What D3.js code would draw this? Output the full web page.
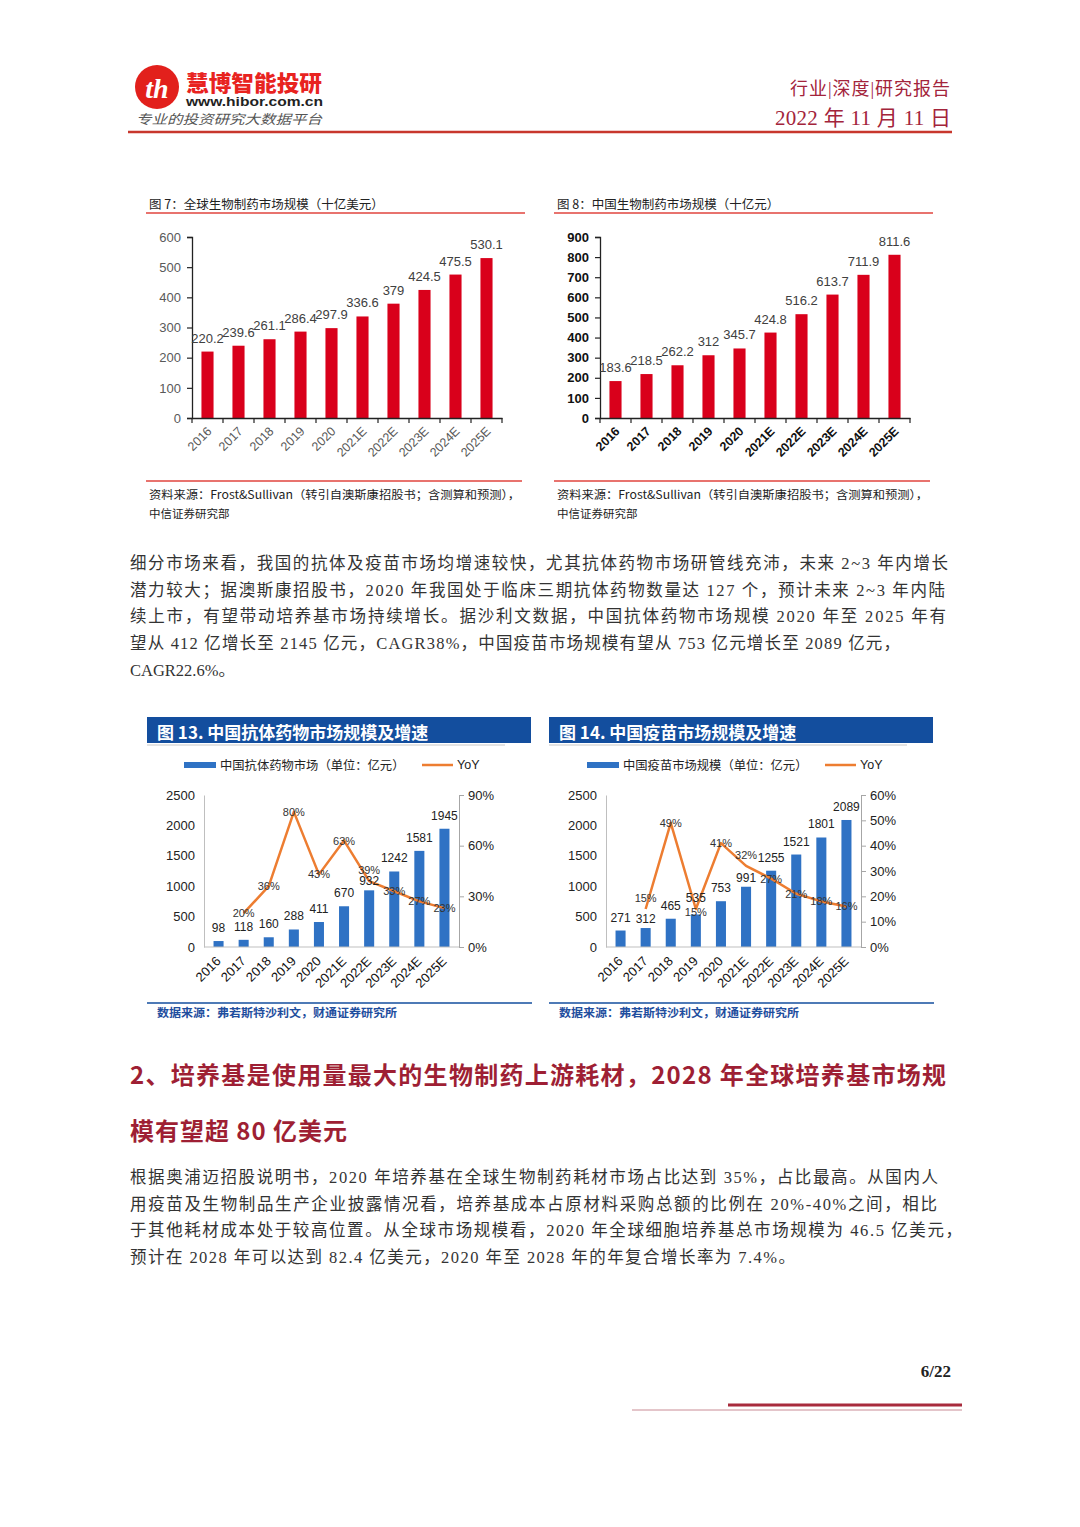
<!DOCTYPE html>
<html><head><meta charset="utf-8">
<script src="https://cdn.jsdelivr.net/npm/d3@7"></script>
<style>body{margin:0;background:#fff} svg{display:block}</style>
</head><body><div id="page"></div>
<script>
// ---------- DATA ----------
const years = ["2016","2017","2018","2019","2020","2021E","2022E","2023E","2024E","2025E"];
const globalBio = [220.2,239.6,261.1,286.4,297.9,336.6,379,424.5,475.5,530.1];
const globalBioLabels = ["220.2","239.6","261.1","286.4","297.9","336.6","379","424.5","475.5","530.1"];
const chinaBio = [183.6,218.5,262.2,312,345.7,424.8,516.2,613.7,711.9,811.6];
const chinaBioLabels = ["183.6","218.5","262.2","312","345.7","424.8","516.2","613.7","711.9","811.6"];
const globalTicks = [0,100,200,300,400,500,600];
const chinaTicks = [0,100,200,300,400,500,600,700,800,900];
const antibody = [98,118,160,288,411,670,932,1242,1581,1945];
const antibodyYoY = [null,20,36,80,43,63,39,33,27,23];
const vaccine = [271,312,465,535,753,991,1255,1521,1801,2089];
const vaccineYoY = [null,15,49,15,41,32,27,21,18,16];
const marketTicks = [0,500,1000,1500,2000,2500];
const antibodyPctTicks = [0,30,60,90];
const vaccinePctTicks = [0,10,20,30,40,50,60];

const para1 = [
 "细分市场来看，我国的抗体及疫苗市场均增速较快，尤其抗体药物市场研管线充沛，未来 2~3 年内增长",
 "潜力较大；据澳斯康招股书，2020 年我国处于临床三期抗体药物数量达 127 个，预计未来 2~3 年内陆",
 "续上市，有望带动培养基市场持续增长。据沙利文数据，中国抗体药物市场规模 2020 年至 2025 年有",
 "望从 412 亿增长至 2145 亿元，CAGR38%，中国疫苗市场规模有望从 753 亿元增长至 2089 亿元，",
 "CAGR22.6%。"
];
const heading = ["2、培养基是使用量最大的生物制药上游耗材，2028 年全球培养基市场规","模有望超 80 亿美元"];
const para2 = [
 "根据奥浦迈招股说明书，2020 年培养基在全球生物制药耗材市场占比达到 35%，占比最高。从国内人",
 "用疫苗及生物制品生产企业披露情况看，培养基成本占原材料采购总额的比例在 20%-40%之间，相比",
 "于其他耗材成本处于较高位置。从全球市场规模看，2020 年全球细胞培养基总市场规模为 46.5 亿美元，",
 "预计在 2028 年可以达到 82.4 亿美元，2020 年至 2028 年的年复合增长率为 7.4%。"
];

// ---------- SETUP ----------
const W=1080,H=1527;
const SANS="'Liberation Sans', Arial, 'Noto Sans CJK SC', sans-serif";
const CJK="'Noto Sans CJK SC', sans-serif";
const SERIF="'Liberation Serif', 'Noto Sans CJK SC', serif";
const svg=d3.select("#page").append("svg").attr("width",W).attr("height",H);
svg.append("rect").attr("width",W).attr("height",H).attr("fill","#fff");

function txt(g,x,y,s,o={}){
  const t=g.append("text").attr("x",x).attr("y",y).text(s)
   .attr("font-family",o.font||SANS).attr("font-size",o.size||12)
   .attr("fill",o.fill||"#333").attr("text-anchor",o.anchor||"start")
   .attr("dominant-baseline",o.base||"central");
  if(o.weight) t.attr("font-weight",o.weight);
  if(o.style) t.attr("font-style",o.style);
  if(o.len) t.attr("textLength",o.len).attr("lengthAdjust","spacingAndGlyphs");
  if(o.lenS) t.attr("textLength",o.lenS).attr("lengthAdjust","spacing");
  return t;
}
function line(g,x1,y1,x2,y2,c,w){
  return g.append("line").attr("x1",x1).attr("y1",y1).attr("x2",x2).attr("y2",y2).attr("stroke",c).attr("stroke-width",w);
}

// ---------- HEADER ----------
const hd=svg.append("g");
hd.append("circle").attr("cx",157).attr("cy",87).attr("r",22).attr("fill","#E2201C");
txt(hd,157,88,"th",{size:28,weight:"bold",style:"italic",fill:"#fff",anchor:"middle",font:"'Liberation Serif', serif"});
txt(hd,186,81,"慧博智能投研",{size:21.5,weight:900,fill:"#E8231F",font:CJK,len:136});
txt(hd,186,102,"www.hibor.com.cn",{size:12,weight:"bold",fill:"#222",len:137});
txt(hd,136,118,"专业的投资研究大数据平台",{size:13,fill:"#555",style:"italic",font:CJK,len:186});
txt(hd,950,89,"行业|深度|研究报告",{size:18,fill:"#A3243B",anchor:"end",font:SERIF,lenS:160});
txt(hd,951,118,"2022 年 11 月 11 日",{size:21,fill:"#A3243B",anchor:"end",font:SERIF,lenS:176});
line(hd,128,132,952,132,"#C8372D",2.5);

// ---------- RED BAR CHARTS ----------
function redBarChart(o){
  const g=svg.append("g");
  txt(g,o.tx,203,o.title,{size:12.5,fill:"#222",font:CJK});
  line(g,o.tx-3,213,o.tx+376,213,"#E0443E",1.5);
  const x=d3.scaleBand().domain(years).range([o.x0,o.x1]);
  const y=d3.scaleLinear().domain([0,o.max]).range([418,237]);
  const bw=x.bandwidth()*0.39;
  g.selectAll("rect.b").data(o.data).join("rect").attr("class","b")
   .attr("x",(d,i)=>x(years[i])+x.bandwidth()/2-bw/2).attr("width",bw)
   .attr("y",d=>y(d)).attr("height",d=>y(0)-y(d)).attr("fill","#D9001B");
  const ya=g.append("g").attr("transform",`translate(${o.x0},0)`)
   .call(d3.axisLeft(y).tickValues(o.ticks).tickSize(5).tickPadding(6).tickFormat(d3.format("d")));
  ya.select(".domain").attr("stroke","#222").attr("stroke-width",1.3);
  ya.selectAll(".tick line").attr("stroke","#222").attr("stroke-width",1.2);
  ya.selectAll("text").attr("font-family",SANS).attr("font-size",13)
   .attr("fill",o.bold?"#111":"#595959").attr("font-weight",o.bold?"bold":null);
  const xa=g.append("g").attr("transform",`translate(0,418)`)
   .call(d3.axisBottom(x).tickSize(0).tickFormat(""));
  xa.select(".domain").attr("stroke","#222").attr("stroke-width",1.3);
  g.selectAll("line.xt").data(years.concat(["end"])).join("line").attr("class","xt")
   .attr("x1",d=>d==="end"?o.x1:x(d)).attr("x2",d=>d==="end"?o.x1:x(d))
   .attr("y1",418).attr("y2",423).attr("stroke","#222").attr("stroke-width",1.2);
  g.selectAll("text.xl").data(years).join("text").attr("class","xl")
   .attr("transform",d=>`translate(${x(d)+x.bandwidth()/2+5},432) rotate(-45)`)
   .attr("text-anchor","end").attr("font-family",SANS).attr("font-size",12.5)
   .attr("fill",o.bold?"#111":"#595959").attr("font-weight",o.bold?"bold":null).text(d=>d);
  g.selectAll("text.v").data(o.data).join("text").attr("class","v")
   .attr("x",(d,i)=>x(years[i])+x.bandwidth()/2).attr("y",d=>y(d)-9)
   .attr("text-anchor","middle").attr("font-family",SANS).attr("font-size",13)
   .attr("fill","#404040").text((d,i)=>o.labels[i]);
  line(g,o.tx-3,481,o.tx+373,481,"#E0443E",1.5);
  txt(g,o.tx,494,"资料来源：Frost&Sullivan（转引自澳斯康招股书；含测算和预测），",{size:11.5,fill:"#222",font:CJK,len:371});
  txt(g,o.tx,513,"中信证券研究部",{size:11.5,fill:"#222",font:CJK});
}
redBarChart({tx:149,title:"图 7：全球生物制药市场规模（十亿美元）",x0:192,x1:502,max:600,ticks:globalTicks,data:globalBio,labels:globalBioLabels,bold:false});
redBarChart({tx:557,title:"图 8：中国生物制药市场规模（十亿元）",x0:600,x1:910,max:900,ticks:chinaTicks,data:chinaBio,labels:chinaBioLabels,bold:true});

// ---------- BLUE COMBO CHARTS ----------
function comboChart(o){
  const g=svg.append("g");
  const BLUE="#2F72C4", ORANGE="#ED7D31", NAVY="#134E9E", AX="#BFBFBF";
  g.append("rect").attr("x",o.bx).attr("y",717).attr("width",384).attr("height",26).attr("fill",NAVY);
  line(g,o.bx,745,o.bx+358,745,"#C8C8C8",1);
  txt(g,o.bx+10,731,o.title,{size:17,weight:"bold",fill:"#fff",font:CJK});
  g.append("rect").attr("x",o.lx).attr("y",762).attr("width",32).attr("height",6).attr("fill",BLUE);
  txt(g,o.lx+36,765,o.legend,{size:12.3,fill:"#222",font:CJK});
  line(g,o.lx+238,765,o.lx+269,765,ORANGE,2.5);
  txt(g,o.lx+273,765,"YoY",{size:12.5,fill:"#222"});
  const x=d3.scaleBand().domain(years).range([o.x0+2,o.x1-2]);
  const y=d3.scaleLinear().domain([0,2500]).range([947,795]);
  const y2=d3.scaleLinear().domain([0,o.pmax]).range([947,795]);
  const cx=d=>x(d)+x.bandwidth()/2;
  const bw=x.bandwidth()*0.4;
  g.selectAll("rect.b").data(o.data).join("rect").attr("class","b")
   .attr("x",(d,i)=>cx(years[i])-bw/2).attr("width",bw)
   .attr("y",d=>y(d)).attr("height",d=>y(0)-y(d)).attr("fill",BLUE);
  const ya=g.append("g").attr("transform",`translate(${o.x0},0)`)
   .call(d3.axisLeft(y).tickValues(marketTicks).tickSize(0).tickPadding(9).tickFormat(d3.format("d")));
  ya.select(".domain").attr("stroke",AX);
  ya.selectAll("text").attr("font-family",SANS).attr("font-size",13).attr("fill","#222");
  const yb=g.append("g").attr("transform",`translate(${o.x1},0)`)
   .call(d3.axisRight(y2).tickValues(o.pticks).tickSize(5).tickPadding(4).tickFormat(d=>d+"%"));
  yb.select(".domain").attr("stroke","#A6A6A6");
  yb.selectAll(".tick line").attr("stroke","#A6A6A6");
  yb.selectAll("text").attr("font-family",SANS).attr("font-size",13).attr("fill","#222");
  line(g,o.x0,947,o.x1,947,AX,1);
  g.selectAll("text.xl").data(years).join("text").attr("class","xl")
   .attr("transform",d=>`translate(${cx(d)+3},962) rotate(-45)`)
   .attr("text-anchor","end").attr("font-family",SANS).attr("font-size",13)
   .attr("fill","#111").text(d=>d);
  const pts=o.yoy.map((v,i)=>({v,i})).filter(d=>d.v!==null);
  g.append("path").datum(pts).attr("fill","none").attr("stroke",ORANGE).attr("stroke-width",2.5)
   .attr("stroke-linejoin","round")
   .attr("d",d3.line().x(d=>cx(years[d.i])).y(d=>y2(d.v)));
  // collision handling between a YoY label (centred on its point) and the bar's value label
  // returns [value label shift, percent label shift]
  const shift=i=>{
    const v=o.yoy[i]; if(v===null) return [0,0];
    const diff=y2(v)-(y(o.data[i])-13);
    if(Math.abs(diff)>=11) return [0,0];
    return diff<5 ? [4,-11] : [-3,3];
  };
  g.selectAll("text.v").data(o.data).join("text").attr("class","v")
   .attr("x",(d,i)=>cx(years[i])).attr("y",(d,i)=>y(d)-9+shift(i)[0])
   .attr("text-anchor","middle").attr("font-family",SANS).attr("font-size",12)
   .attr("fill","#222").text(d=>d);
  g.selectAll("text.p").data(pts).join("text").attr("class","p")
   .attr("x",d=>cx(years[d.i])).attr("y",d=>y2(d.v)+shift(d.i)[1]).attr("dominant-baseline","central")
   .attr("text-anchor","middle").attr("font-family",SANS).attr("font-size",11)
   .attr("fill","#333").text(d=>d.v+"%");
  line(g,o.bx,1003,o.bx+385,1003,NAVY,1.5);
  txt(g,o.bx+10,1012,"数据来源：弗若斯特沙利文，财通证券研究所",{size:11.5,weight:"bold",fill:"#1F4E9E",font:CJK,len:240});
}
comboChart({bx:147,lx:184,title:"图 13. 中国抗体药物市场规模及增速",legend:"中国抗体药物市场（单位：亿元）",
  x0:204,x1:459,pmax:90,pticks:antibodyPctTicks,data:antibody,yoy:antibodyYoY});
comboChart({bx:549,lx:587,title:"图 14. 中国疫苗市场规模及增速",legend:"中国疫苗市场规模（单位：亿元）",
  x0:606,x1:861,pmax:60,pticks:vaccinePctTicks,data:vaccine,yoy:vaccineYoY});

// ---------- BODY TEXT ----------
const body=svg.append("g");
const p1y=[563,590,616,643,670], p1len=[818,815,816,770,null];
para1.forEach((s,i)=>txt(body,130,p1y[i],s,{size:16.5,fill:"#333",font:SERIF,lenS:p1len[i]||null}));
txt(body,130,1073,heading[0],{size:24,weight:"bold",fill:"#9E1F34",font:CJK,lenS:816});
txt(body,130,1129,heading[1],{size:24,weight:"bold",fill:"#9E1F34",font:CJK,lenS:217});
const p2y=[1177,1204,1230,1257], p2len=[808,807,832,665];
para2.forEach((s,i)=>txt(body,130,p2y[i],s,{size:16.5,fill:"#333",font:SERIF,lenS:p2len[i]||null}));

// ---------- FOOTER ----------
txt(body,951,1371,"6/22",{size:17,weight:"bold",fill:"#222",anchor:"end",font:SERIF});
line(body,728,1405,962,1405,"#A82B3C",3);
line(body,632,1410,962,1410,"#C98C95",1);
</script></body></html>
